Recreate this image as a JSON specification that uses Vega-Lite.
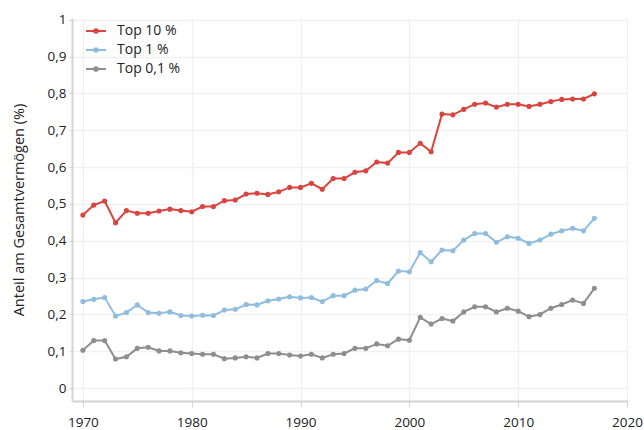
{
  "$schema": "https://vega.github.io/schema/vega-lite/v6.json",
  "autosize": "none",
  "width": 555,
  "height": 383,
  "padding": {"left": 72, "top": 18, "right": 17, "bottom": 29},
  "background": "white",
  "config": {
    "font": "Open Sans",
    "view": {"stroke": null},
    "axis": {
      "labelFont": "Open Sans",
      "titleFont": "Open Sans",
      "labelColor": "#222",
      "titleColor": "#222",
      "labelFontSize": 13.5,
      "titleFontSize": 14.5,
      "titleFontWeight": "normal",
      "domainColor": "#d4d4d4",
      "domainWidth": 2,
      "tickColor": "#d4d4d4",
      "gridColor": "#f1f1f1",
      "gridWidth": 1.5
    }
  },
  "data": {
    "values": [
      {"year": 1970, "group": "Top 10 %", "value": 0.470}, {"year": 1970, "group": "Top 1 %", "value": 0.235}, {"year": 1970, "group": "Top 0,1 %", "value": 0.103},
      {"year": 1971, "group": "Top 10 %", "value": 0.497}, {"year": 1971, "group": "Top 1 %", "value": 0.241}, {"year": 1971, "group": "Top 0,1 %", "value": 0.129},
      {"year": 1972, "group": "Top 10 %", "value": 0.508}, {"year": 1972, "group": "Top 1 %", "value": 0.246}, {"year": 1972, "group": "Top 0,1 %", "value": 0.129},
      {"year": 1973, "group": "Top 10 %", "value": 0.449}, {"year": 1973, "group": "Top 1 %", "value": 0.196}, {"year": 1973, "group": "Top 0,1 %", "value": 0.079},
      {"year": 1974, "group": "Top 10 %", "value": 0.482}, {"year": 1974, "group": "Top 1 %", "value": 0.205}, {"year": 1974, "group": "Top 0,1 %", "value": 0.085},
      {"year": 1975, "group": "Top 10 %", "value": 0.475}, {"year": 1975, "group": "Top 1 %", "value": 0.226}, {"year": 1975, "group": "Top 0,1 %", "value": 0.108},
      {"year": 1976, "group": "Top 10 %", "value": 0.475}, {"year": 1976, "group": "Top 1 %", "value": 0.205}, {"year": 1976, "group": "Top 0,1 %", "value": 0.111},
      {"year": 1977, "group": "Top 10 %", "value": 0.481}, {"year": 1977, "group": "Top 1 %", "value": 0.203}, {"year": 1977, "group": "Top 0,1 %", "value": 0.101},
      {"year": 1978, "group": "Top 10 %", "value": 0.486}, {"year": 1978, "group": "Top 1 %", "value": 0.207}, {"year": 1978, "group": "Top 0,1 %", "value": 0.101},
      {"year": 1979, "group": "Top 10 %", "value": 0.482}, {"year": 1979, "group": "Top 1 %", "value": 0.197}, {"year": 1979, "group": "Top 0,1 %", "value": 0.096},
      {"year": 1980, "group": "Top 10 %", "value": 0.479}, {"year": 1980, "group": "Top 1 %", "value": 0.196}, {"year": 1980, "group": "Top 0,1 %", "value": 0.094},
      {"year": 1981, "group": "Top 10 %", "value": 0.493}, {"year": 1981, "group": "Top 1 %", "value": 0.198}, {"year": 1981, "group": "Top 0,1 %", "value": 0.092},
      {"year": 1982, "group": "Top 10 %", "value": 0.493}, {"year": 1982, "group": "Top 1 %", "value": 0.197}, {"year": 1982, "group": "Top 0,1 %", "value": 0.092},
      {"year": 1983, "group": "Top 10 %", "value": 0.509}, {"year": 1983, "group": "Top 1 %", "value": 0.212}, {"year": 1983, "group": "Top 0,1 %", "value": 0.080},
      {"year": 1984, "group": "Top 10 %", "value": 0.511}, {"year": 1984, "group": "Top 1 %", "value": 0.214}, {"year": 1984, "group": "Top 0,1 %", "value": 0.082},
      {"year": 1985, "group": "Top 10 %", "value": 0.527}, {"year": 1985, "group": "Top 1 %", "value": 0.227}, {"year": 1985, "group": "Top 0,1 %", "value": 0.085},
      {"year": 1986, "group": "Top 10 %", "value": 0.529}, {"year": 1986, "group": "Top 1 %", "value": 0.226}, {"year": 1986, "group": "Top 0,1 %", "value": 0.082},
      {"year": 1987, "group": "Top 10 %", "value": 0.526}, {"year": 1987, "group": "Top 1 %", "value": 0.237}, {"year": 1987, "group": "Top 0,1 %", "value": 0.094},
      {"year": 1988, "group": "Top 10 %", "value": 0.533}, {"year": 1988, "group": "Top 1 %", "value": 0.242}, {"year": 1988, "group": "Top 0,1 %", "value": 0.094},
      {"year": 1989, "group": "Top 10 %", "value": 0.545}, {"year": 1989, "group": "Top 1 %", "value": 0.248}, {"year": 1989, "group": "Top 0,1 %", "value": 0.090},
      {"year": 1990, "group": "Top 10 %", "value": 0.545}, {"year": 1990, "group": "Top 1 %", "value": 0.245}, {"year": 1990, "group": "Top 0,1 %", "value": 0.087},
      {"year": 1991, "group": "Top 10 %", "value": 0.556}, {"year": 1991, "group": "Top 1 %", "value": 0.246}, {"year": 1991, "group": "Top 0,1 %", "value": 0.092},
      {"year": 1992, "group": "Top 10 %", "value": 0.540}, {"year": 1992, "group": "Top 1 %", "value": 0.235}, {"year": 1992, "group": "Top 0,1 %", "value": 0.082},
      {"year": 1993, "group": "Top 10 %", "value": 0.569}, {"year": 1993, "group": "Top 1 %", "value": 0.251}, {"year": 1993, "group": "Top 0,1 %", "value": 0.092},
      {"year": 1994, "group": "Top 10 %", "value": 0.569}, {"year": 1994, "group": "Top 1 %", "value": 0.251}, {"year": 1994, "group": "Top 0,1 %", "value": 0.094},
      {"year": 1995, "group": "Top 10 %", "value": 0.586}, {"year": 1995, "group": "Top 1 %", "value": 0.266}, {"year": 1995, "group": "Top 0,1 %", "value": 0.108},
      {"year": 1996, "group": "Top 10 %", "value": 0.590}, {"year": 1996, "group": "Top 1 %", "value": 0.269}, {"year": 1996, "group": "Top 0,1 %", "value": 0.108},
      {"year": 1997, "group": "Top 10 %", "value": 0.614}, {"year": 1997, "group": "Top 1 %", "value": 0.292}, {"year": 1997, "group": "Top 0,1 %", "value": 0.120},
      {"year": 1998, "group": "Top 10 %", "value": 0.611}, {"year": 1998, "group": "Top 1 %", "value": 0.284}, {"year": 1998, "group": "Top 0,1 %", "value": 0.115},
      {"year": 1999, "group": "Top 10 %", "value": 0.640}, {"year": 1999, "group": "Top 1 %", "value": 0.318}, {"year": 1999, "group": "Top 0,1 %", "value": 0.133},
      {"year": 2000, "group": "Top 10 %", "value": 0.640}, {"year": 2000, "group": "Top 1 %", "value": 0.316}, {"year": 2000, "group": "Top 0,1 %", "value": 0.130},
      {"year": 2001, "group": "Top 10 %", "value": 0.665}, {"year": 2001, "group": "Top 1 %", "value": 0.368}, {"year": 2001, "group": "Top 0,1 %", "value": 0.192},
      {"year": 2002, "group": "Top 10 %", "value": 0.642}, {"year": 2002, "group": "Top 1 %", "value": 0.343}, {"year": 2002, "group": "Top 0,1 %", "value": 0.174},
      {"year": 2003, "group": "Top 10 %", "value": 0.744}, {"year": 2003, "group": "Top 1 %", "value": 0.375}, {"year": 2003, "group": "Top 0,1 %", "value": 0.189},
      {"year": 2004, "group": "Top 10 %", "value": 0.742}, {"year": 2004, "group": "Top 1 %", "value": 0.373}, {"year": 2004, "group": "Top 0,1 %", "value": 0.182},
      {"year": 2005, "group": "Top 10 %", "value": 0.757}, {"year": 2005, "group": "Top 1 %", "value": 0.402}, {"year": 2005, "group": "Top 0,1 %", "value": 0.207},
      {"year": 2006, "group": "Top 10 %", "value": 0.771}, {"year": 2006, "group": "Top 1 %", "value": 0.420}, {"year": 2006, "group": "Top 0,1 %", "value": 0.221},
      {"year": 2007, "group": "Top 10 %", "value": 0.774}, {"year": 2007, "group": "Top 1 %", "value": 0.420}, {"year": 2007, "group": "Top 0,1 %", "value": 0.221},
      {"year": 2008, "group": "Top 10 %", "value": 0.763}, {"year": 2008, "group": "Top 1 %", "value": 0.396}, {"year": 2008, "group": "Top 0,1 %", "value": 0.207},
      {"year": 2009, "group": "Top 10 %", "value": 0.771}, {"year": 2009, "group": "Top 1 %", "value": 0.411}, {"year": 2009, "group": "Top 0,1 %", "value": 0.217},
      {"year": 2010, "group": "Top 10 %", "value": 0.771}, {"year": 2010, "group": "Top 1 %", "value": 0.407}, {"year": 2010, "group": "Top 0,1 %", "value": 0.209},
      {"year": 2011, "group": "Top 10 %", "value": 0.765}, {"year": 2011, "group": "Top 1 %", "value": 0.393}, {"year": 2011, "group": "Top 0,1 %", "value": 0.194},
      {"year": 2012, "group": "Top 10 %", "value": 0.771}, {"year": 2012, "group": "Top 1 %", "value": 0.402}, {"year": 2012, "group": "Top 0,1 %", "value": 0.200},
      {"year": 2013, "group": "Top 10 %", "value": 0.778}, {"year": 2013, "group": "Top 1 %", "value": 0.418}, {"year": 2013, "group": "Top 0,1 %", "value": 0.217},
      {"year": 2014, "group": "Top 10 %", "value": 0.784}, {"year": 2014, "group": "Top 1 %", "value": 0.427}, {"year": 2014, "group": "Top 0,1 %", "value": 0.227},
      {"year": 2015, "group": "Top 10 %", "value": 0.785}, {"year": 2015, "group": "Top 1 %", "value": 0.434}, {"year": 2015, "group": "Top 0,1 %", "value": 0.239},
      {"year": 2016, "group": "Top 10 %", "value": 0.785}, {"year": 2016, "group": "Top 1 %", "value": 0.427}, {"year": 2016, "group": "Top 0,1 %", "value": 0.230},
      {"year": 2017, "group": "Top 10 %", "value": 0.799}, {"year": 2017, "group": "Top 1 %", "value": 0.461}, {"year": 2017, "group": "Top 0,1 %", "value": 0.271}
    ]
  },
  "mark": {"type": "line", "strokeWidth": 2, "point": {"filled": true, "size": 26}},
  "encoding": {
    "x": {
      "field": "year",
      "type": "quantitative",
      "scale": {"domain": [1969, 2020], "nice": false, "zero": false},
      "axis": {
        "title": null,
        "values": [1970, 1980, 1990, 2000, 2010, 2020],
        "format": "d",
        "grid": true,
        "tickSize": 6,
        "labelPadding": 8,
        "labelFlush": false
      }
    },
    "y": {
      "field": "value",
      "type": "quantitative",
      "scale": {"domain": [-0.035, 1.005], "nice": false, "zero": false},
      "axis": {
        "title": "Anteil am Gesamtvermögen (%)",
        "values": [0, 0.1, 0.2, 0.3, 0.4, 0.5, 0.6, 0.7, 0.8, 0.9, 1],
        "labelExpr": "replace(format(datum.value, '.1~f'), '.', ',')",
        "grid": true,
        "tickSize": 3,
        "labelPadding": 3,
        "titlePadding": 21
      }
    },
    "color": {
      "field": "group",
      "type": "nominal",
      "scale": {
        "domain": ["Top 10 %", "Top 1 %", "Top 0,1 %"],
        "range": ["#d9443f", "#8fbde0", "#8e8e8e"]
      },
      "legend": {
        "title": null,
        "orient": "none",
        "legendX": 13,
        "legendY": 2,
        "symbolType": "M-1,0L1,0M0.18,0A0.18,0.18,0,1,1,-0.18,0A0.18,0.18,0,1,1,0.18,0",
        "symbolSize": 400,
        "symbolStrokeWidth": 2,
        "labelFont": "Open Sans",
        "labelFontSize": 14,
        "labelColor": "#222",
        "labelOffset": 10,
        "rowPadding": 1
      }
    }
  }
}
